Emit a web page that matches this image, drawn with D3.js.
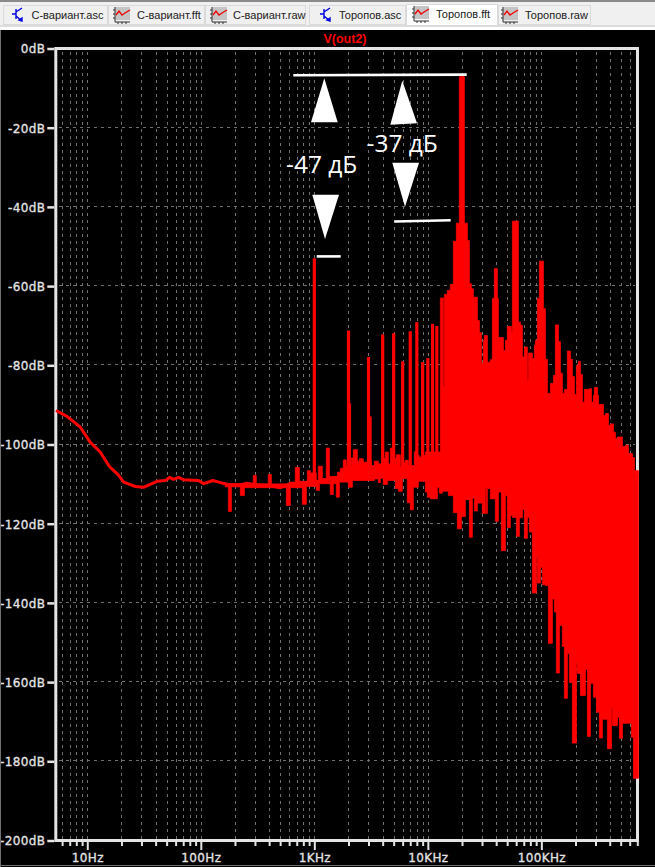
<!DOCTYPE html>
<html><head><meta charset="utf-8">
<script src="https://cdn.jsdelivr.net/npm/d3@7"></script>
<style>
html,body{margin:0;padding:0;background:#000;overflow:hidden}
svg{display:block}
text{font-family:"DejaVu Sans",sans-serif}
</style></head><body>
<svg id="c" width="655" height="867"></svg>
<script>
// ---------- chart values ----------
const dbTicks = [0,-20,-40,-60,-80,-100,-120,-140,-160,-180,-200];
const freqMajor = [10,100,1000,10000,100000];
const freqLabels = ["10Hz","100Hz","1KHz","10KHz","100KHz"];
const freqMinor = [6,7,8,9,20,30,40,50,60,70,80,90,200,300,400,500,600,700,800,900,2000,3000,4000,5000,6000,7000,8000,9000,20000,30000,40000,50000,60000,70000,80000,90000,200000,300000,400000,500000,600000,700000];
const tabNames = ["С-вариант.asc","С-вариант.fft","С-вариант.raw","Торопов.asc","Торопов.fft","Торопов.raw"];
const traceName = "V(out2)";

// median trace
const traceHz = [5.3,6.62,8.68,10.6,13,15.6,18.9,20.9,26.5,31.3,41.1,48.7,53.1,57.5,63.7,70.5,95.5,106,128,143.5,157,175,223,254,334,435,502,615,753,1129,1470,2076,3310,6596,12887,43549,716470];
const traceDb = [-91.4,-92.9,-95.6,-99.4,-101.9,-105.5,-107.8,-109.5,-110.6,-110.8,-109.3,-109.1,-108.3,-108.8,-108.3,-108.9,-109.1,-109.9,-109.1,-109.5,-109.8,-110.1,-110.2,-109.8,-110.3,-110.6,-110.9,-109.8,-109.7,-109.3,-108.6,-107.8,-107.3,-107.1,-106.6,-106.6,-107.8];

// upper envelope of the FFT
const upperHz = [164,290,308,393,418,680,738,868,922,1041,1084,1176,1276,1356,1595,1695,1801,1914,2118,2206,2392,2492,2702,2931,3178,3378,3663,3973,4222,4487,4673,4966,5277,5723,5960,6334,6732,7603,8080,8415,9126,9504,12887,13696,13977,14854,15787,16778,17831,18950,20975,22291,23215,24176,25178,27307,28438,29616,30843,31475,33451,35550,37023,38557,40977,41817,46283,48200,50196,54441,55557,62751,65350,68057,70876,75325,76869,83369,86822,88602,92272,96094,104220,108537,113032,120127,127668,132956,141301,147154,153249,159597,169615,180261,187728,195504,203602,212035,220818,229964,239489,265065,276044,287478,293371,311786,318178,352157,366744,389765,405910,431389,449258,467866,517830,550335,584880,634336,660611,716470];
const upperDb = [-110,-107.8,-110,-107.6,-110.1,-105.8,-109.3,-106.6,-107.2,-109.1,-105.5,-108.6,-100.9,-108.1,-107,-106,-103.9,-105.5,-103.4,-101.3,-104.2,-103.6,-104.5,-104,-105.3,-104.2,-104.9,-103.5,-101.9,-104.9,-100.9,-103.5,-102.6,-105.7,-104.5,-104,-105.3,-101.8,-102.8,-103.2,-102.8,-101.9,-63,-85.3,-62.1,-61.1,-59.6,-48.7,-44.1,-7.1,-44.1,-48.5,-59.4,-60.7,-62.8,-68.7,-71.8,-79.5,-73.7,-72.5,-79.2,-78.6,-63.1,-55.6,-63.1,-73,-76.3,-73.7,-70.2,-71.6,-43.6,-69.1,-69.9,-77.9,-75.4,-83.6,-76.9,-78.3,-75,-73.7,-63.1,-53.7,-65.7,-78.5,-87.1,-84.6,-82.6,-69.8,-74,-82,-87.1,-86.1,-76.4,-78.5,-82.8,-87.4,-80,-79,-82.3,-89.3,-86.1,-85.9,-89.3,-87.6,-85.6,-87.6,-89.9,-92.7,-92.2,-95.2,-94.8,-96.9,-98.5,-98.1,-100.5,-100.2,-102.3,-103.3,-106.6,-106.6];

// lower envelope of the FFT
const lowerHz = [164,175,186,223,242,567,615,784,850,1041,1107,1383,1470,1563,1661,1993,2162,3378,3663,3815,4054,4397,5171,5496,5960,6596,7010,7450,8246,9504,9898,10520,12126,12628,13421,15159,16778,18197,19736,21405,23215,24672,25694,27307,30223,32120,32779,33451,35550,39347,41817,44442,48200,50196,53347,55557,60255,64037,68057,70876,75325,78445,83369,90418,92272,98064,102126,108537,115349,125103,130285,135681,144198,153249,159597,169615,176640,187728,203602,207775,220818,244399,254522,270499,287478,305523,324701,345083,381935,414231,422723,467866,487246,517830,621593,647340,716470];
const lowerDb = [-110.7,-116.9,-110.7,-112.9,-110.9,-115.4,-110.9,-115.1,-110.6,-111.6,-109.9,-112.6,-109.9,-113.3,-109.5,-110.8,-109.1,-108.7,-109.6,-108.5,-110.1,-109.1,-111.1,-111.8,-108.6,-114.7,-116.5,-110.8,-109.3,-112,-113.3,-113.7,-110.8,-112.3,-111.8,-112.9,-117.2,-121.3,-118.2,-113.9,-123.4,-113.5,-116.8,-114.8,-117.4,-110.9,-117.4,-111.1,-113.7,-119.4,-112,-126.8,-112.9,-121,-117.9,-118.4,-123.2,-118.5,-116.4,-123.7,-118.4,-122.1,-137.5,-128.3,-135,-131,-135.4,-135.6,-150.2,-139,-142.3,-157.7,-145.7,-151,-164.1,-152.8,-160.1,-175.4,-155,-157.8,-163.4,-156.8,-173.7,-160.3,-163.8,-167.6,-174.1,-169.4,-176.8,-166.7,-171,-168.9,-174.2,-170.4,-173.9,-184.3,-184.3];

// harmonic spikes
const spikeHz = [1000,2000,2040,3000,3100,4000,5000,6000,7000,8000,9000,10000,11000,12000];
const spikeDb = [-53,-71.2,-89.6,-77.9,-92.9,-72.2,-71.9,-79,-71.4,-69.1,-79.2,-78.2,-69.5,-70.1];

// hand annotations
const noteTexts = ["-47 дБ","-37 дБ"];

// ---------- layout ----------
const W=655,H=867, L=55.8,R=637.5,T=48.5,B=840.5;
const svg=d3.select("#c");
const x=d3.scaleLog().domain([5.28,703000]).range([L,R]);
const y=d3.scaleLinear().domain([0,-200]).range([T,B]);
const GRID="#707070", AX="#e4e4e4", RED="#ff0000";

svg.append("rect").attr("width",W).attr("height",H).attr("fill","#000");

// grid
const gg=svg.append("g").attr("stroke",GRID).attr("stroke-width",1).attr("stroke-dasharray","3,4").attr("shape-rendering","crispEdges");
gg.selectAll("line.v").data(freqMajor.concat(freqMinor)).join("line").attr("class","v")
  .attr("x1",d=>Math.round(x(d))+.5).attr("x2",d=>Math.round(x(d))+.5).attr("y1",T+3).attr("y2",B-2);
gg.selectAll("line.h").data(dbTicks.slice(1,-1)).join("line").attr("class","h")
  .attr("x1",L+3).attr("x2",R-3).attr("y1",d=>Math.round(y(d))-.5).attr("y2",d=>Math.round(y(d))-.5);

// frame
svg.append("rect").attr("x",L).attr("y",T).attr("width",R-L).attr("height",B-T)
  .attr("fill","none").attr("stroke",AX).attr("stroke-width",3);

// axes
const axL=d3.axisLeft(y).tickValues(dbTicks).tickSize(7).tickPadding(2).tickFormat(d=>d+"dB");
const gL=svg.append("g").attr("transform",`translate(${L-1.5},0)`).call(axL);
gL.select(".domain").remove();
gL.selectAll("line").attr("stroke",AX).attr("stroke-width",2.5);
gL.selectAll("text").attr("fill",AX).attr("font-size",12).attr("dy",".36em").attr("letter-spacing",".35").attr("stroke",AX).attr("stroke-width",.3);

const axMin=d3.axisBottom(x).tickValues(freqMinor).tickSize(4).tickFormat("");
const gMin=svg.append("g").attr("transform",`translate(0,${B+1.5})`).call(axMin);
gMin.select(".domain").remove();
gMin.selectAll("line").attr("stroke",AX).attr("stroke-width",2);
const axMaj=d3.axisBottom(x).tickValues(freqMajor).tickSize(8).tickPadding(3).tickFormat((d,i)=>freqLabels[i]);
const gMaj=svg.append("g").attr("transform",`translate(0,${B+1.5})`).call(axMaj);
gMaj.select(".domain").remove();
gMaj.selectAll("line").attr("stroke",AX).attr("stroke-width",2);
gMaj.selectAll("text").attr("fill",AX).attr("font-size",12).attr("letter-spacing",".35").attr("stroke",AX).attr("stroke-width",.3);

// trace
const base=d3.scaleLog().domain(traceHz).range(traceDb);
const tr=svg.append("g");
const envelope=(hz,db)=>d3.area().curve(d3.curveStepAfter)
  .x(i=>x(hz[i])).y0(i=>y(base(hz[i]))).y1(i=>y(db[i]))(d3.range(hz.length));
tr.append("path").attr("d",envelope(upperHz,upperDb)).attr("fill",RED).attr("stroke",RED).attr("stroke-width",.8);
tr.append("path").attr("d",envelope(lowerHz,lowerDb)).attr("fill",RED).attr("stroke",RED).attr("stroke-width",.8);
tr.selectAll("line").data(spikeHz).join("line")
  .attr("x1",d=>x(d)).attr("x2",d=>x(d))
  .attr("y1",(d,i)=>y(spikeDb[i])).attr("y2",d=>y(base(d)))
  .attr("stroke",RED).attr("stroke-width",3.2);
tr.append("path").attr("fill","none").attr("stroke",RED).attr("stroke-width",3).attr("stroke-linejoin","round")
  .attr("d",d3.line().x(i=>x(traceHz[i])).y(i=>y(traceDb[i]))(d3.range(traceHz.length)));

// title
svg.append("text").attr("x",345).attr("y",42.5).attr("text-anchor","middle").attr("fill",RED)
  .attr("font-size",12.5).attr("font-weight","bold").style("font-family","Liberation Sans").text(traceName);

// annotations
const an=svg.append("g").attr("fill","#fff");
[[293.3,75.2,466.7,74.6],[394.3,221.5,450.7,220.2],[316.7,256.4,340.7,256.4]].forEach(l=>
  an.append("line").attr("x1",l[0]).attr("y1",l[1]).attr("x2",l[2]).attr("y2",l[3]).attr("stroke","#fff").attr("stroke-width",2.6));
[[324.3,78.3,311,122.3,337.7,122.3],[402.3,80.7,390.3,124.7,417,123.3],[312.3,194.7,339,194.7,325,239],[392.3,162.7,419,162.7,405,206.7]].forEach(p=>
  an.append("polygon").attr("points",`${p[0]},${p[1]} ${p[2]},${p[3]} ${p[4]},${p[5]}`));
an.selectAll("text").data(noteTexts).join("text")
  .attr("x",(d,i)=>[286,366.5][i]).attr("y",(d,i)=>[173,151.7][i])
  .attr("font-size",24.5).style("font-family","Open Sans").text(d=>d);

// tab bar
const bar=svg.append("g");
bar.append("rect").attr("width",W).attr("height",30).attr("fill","#f0f0f0");
bar.append("rect").attr("width",W).attr("height",2).attr("fill","#8a8a8a");
bar.append("rect").attr("y",27).attr("width",W).attr("height",3).attr("fill","#ffffff");
bar.append("rect").attr("y",25).attr("width",W).attr("height",2).attr("fill","#dcdcdc");
svg.append("rect").attr("x",0).attr("y",30).attr("width",1).attr("height",H-30).attr("fill","#707070");
svg.append("rect").attr("x",0).attr("y",H-2).attr("width",W).attr("height",1).attr("fill","#707070");

const tabX=[3,108,205,309,406,498], tabW=[104,96,100,96,91,92];
const iconX=[11,114,211,319,413,502], textX=[31.5,137,233,339,436,525];
tabNames.forEach((t,i)=>{
  const active=i===4;
  const g=bar.append("g");
  g.append("rect").attr("x",tabX[i]+.5).attr("y",active?4.5:5.5).attr("width",tabW[i]).attr("height",active?21:19)
    .attr("fill",active?"#fff":"#f0f0f0").attr("stroke","#dadada");
  const ix=iconX[i], iy=active?7:8;
  if(t.endsWith(".asc")){
    const b=g.append("g").attr("stroke","#0000e0").attr("fill","none").attr("stroke-width",1.4);
    b.append("path").attr("d",`M${ix+1},${iy+6}h4M${ix+5},${iy+1}v10M${ix+5},${iy+4}l6,-4M${ix+5},${iy+8}l6,5`);
    b.append("path").attr("d",`M${ix+8},${iy+12}l3,1v-3z`).attr("fill","#0000e0");
  } else {
    g.append("rect").attr("x",ix+1).attr("y",iy-1).attr("width",15).attr("height",13).attr("fill","#c4c4c4");
    g.append("path").attr("d",`M${ix+1},${iy-1}v15h15M${ix-1},${iy+2}h2M${ix-1},${iy+6}h2M${ix-1},${iy+10}h2M${ix+4},${iy+14}v2M${ix+8},${iy+14}v2M${ix+12},${iy+14}v2`)
      .attr("stroke","#303030").attr("fill","none");
    g.append("path").attr("d",`M${ix+2},${iy+7}l3,-4l3,4l3,-2l5,-3`).attr("stroke","#f00000").attr("fill","none").attr("stroke-width",1.3);
  }
  g.append("text").attr("x",textX[i]).attr("y",active?18:19).attr("fill","#202020")
    .attr("font-size",11).style("font-family","Liberation Sans").text(t);
});
</script>
</body></html>
